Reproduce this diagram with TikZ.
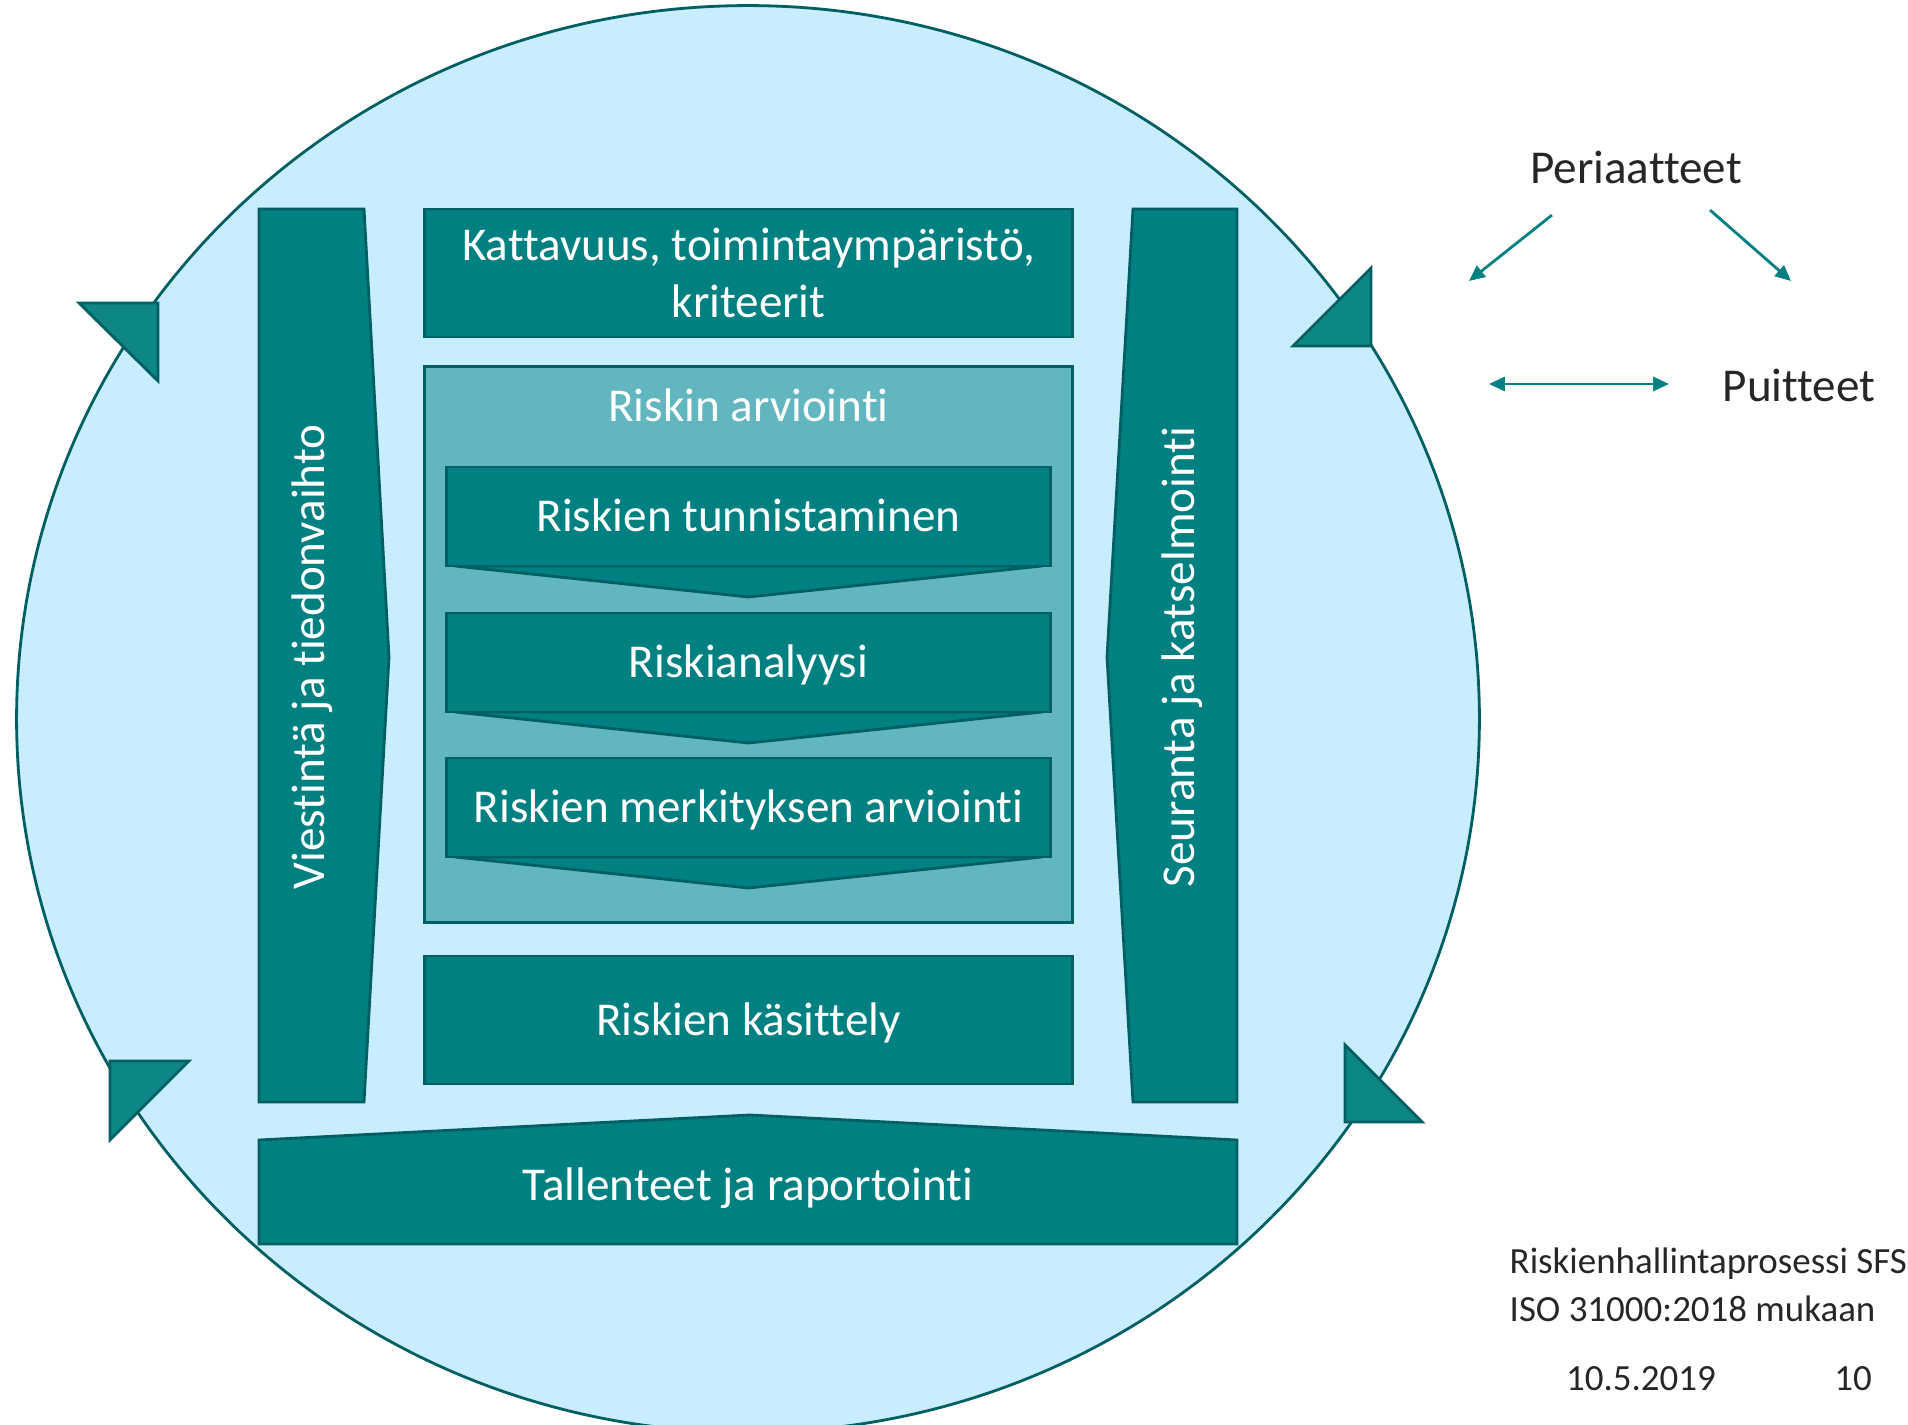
\documentclass[tikz,border=0pt]{standalone}
\usepackage{fontspec}
\setmainfont{Carlito}[Ligatures={NoCommon}]
\usetikzlibrary{arrows.meta}
\definecolor{tealfill}{HTML}{008080}
\definecolor{tealline}{HTML}{005F63}
\definecolor{skyfill}{HTML}{C8EDFD}
\definecolor{assessfill}{HTML}{62B6C0}
\definecolor{greytext}{HTML}{262626}

\begin{document}
\begin{tikzpicture}[x=0.01cm, y=-0.01cm,
    box/.style = {draw=tealline, fill=tealfill, line width=0.8pt, text=white, font=\fontsize{13.4}{16}\selectfont, align=center, inner sep=0pt},
    oneline/.style = {text height=0.88em, text depth=0pt},
    caption/.style = {text=white, font=\fontsize{13.4}{16}\selectfont, align=center, inner sep=0pt, oneline},
    plain/.style = {text=greytext, font=\fontsize{13.4}{16}\selectfont, inner sep=0pt},
    small/.style = {text=greytext, font=\fontsize{10.5}{12.6}\selectfont, inner sep=0pt},
    marker/.style = {draw=tealline, fill=tealfill!95!white, line width=0.8pt},
    tip/.style = {draw=tealfill, line width=0.8pt, -{Triangle[length=4.5pt,width=4pt]}}]
  \useasboundingbox (0,0) rectangle (1908,1425);

  % circle and the four markers on it
  \draw[fill=skyfill, draw=tealline, line width=0.8pt] (748,719) ellipse [x radius=7.31cm, y radius=7.13cm];
  \draw[marker] (79,303) -- (158,303) -- (158,381) -- cycle;
  \draw[marker] (1371,268) -- (1371,346) -- (1293,346) -- cycle;
  \draw[marker] (1345,1045) -- (1345,1122) -- (1422,1122) -- cycle;
  \draw[marker] (110,1061) -- (189,1061) -- (110,1140) -- cycle;

  % side arrows
  \draw[box] (259,209) -- (364,209) -- (389,657) -- (364,1102) -- (259,1102) -- cycle;
  \node[caption, rotate=90] (viestinta) at (309,657) {Viestintä ja tiedonvaihto};
  \draw[box] (1133,209) -- (1237,209) -- (1237,1102) -- (1133,1102) -- (1107,657) -- cycle;
  \node[caption, rotate=90] (seuranta) at (1179,657) {Seuranta ja katselmointi};

  % middle column
  \node[box, minimum width=6.47cm, minimum height=1.28cm] (kattavuus) at (748.5,273) {Kattavuus, toimintaympäristö,\\kriteerit};
  \node[draw=tealline, fill=assessfill, line width=0.8pt, minimum width=6.47cm, minimum height=5.55cm] (arviointi) at (748.5,644.5) {};
  \node[caption] (arviointi_title) at (748.5,406) {Riskin arviointi};
  \foreach \y/\name/\txt in {516.5/tunnistaminen/Riskien tunnistaminen, 662.5/analyysi/Riskianalyysi, 807.5/merkitys/Riskien merkityksen arviointi} {
    \draw[box] (455,\y+49.5) -- (748.5,\y+80.5) -- (1042,\y+49.5) -- cycle;
    \node[box, oneline, minimum width=6.03cm, minimum height=0.99cm] (\name) at (748.5,\y) {\txt};
  }
  \node[box, oneline, minimum width=6.47cm, minimum height=1.28cm] (kasittely) at (748.5,1020) {Riskien käsittely};

  % bottom arrow
  \draw[box] (259,1140) -- (750,1115) -- (1237,1140) -- (1237,1244) -- (259,1244) -- cycle;
  \node[caption] (tallenteet) at (748,1185) {Tallenteet ja raportointi};

  % right side
  \node[plain] (periaatteet) at (1636,167) {Periaatteet};
  \node[plain] (puitteet) at (1799,385) {Puitteet};
  \coordinate (vasen) at (1469,281);
  \coordinate (oikea) at (1791,281);
  \coordinate (alku) at (1489,384);
  \coordinate (loppu) at (1669,384);
  \draw[tip] ([xshift=-0.84cm, yshift=-0.31cm]periaatteet.south) -- (vasen);
  \draw[tip] ([xshift=0.74cm, yshift=-0.26cm]periaatteet.south) -- (oikea);
  \draw[tip, {Triangle[length=4.5pt,width=4pt]}-{Triangle[length=4.5pt,width=4pt]}] (alku) -- (loppu);

  \node[small, anchor=west] (prosessi) at (1509,1264) {Riskienhallintaprosessi SFS};
  \node[small, anchor=west] (iso) at (1509,1309) {ISO 31000:2018 mukaan};
  \node[small] (pvm) at (1641,1379) {10.5.2019};
  \node[small] (sivu) at (1853,1379) {10};
\end{tikzpicture}
\end{document}
